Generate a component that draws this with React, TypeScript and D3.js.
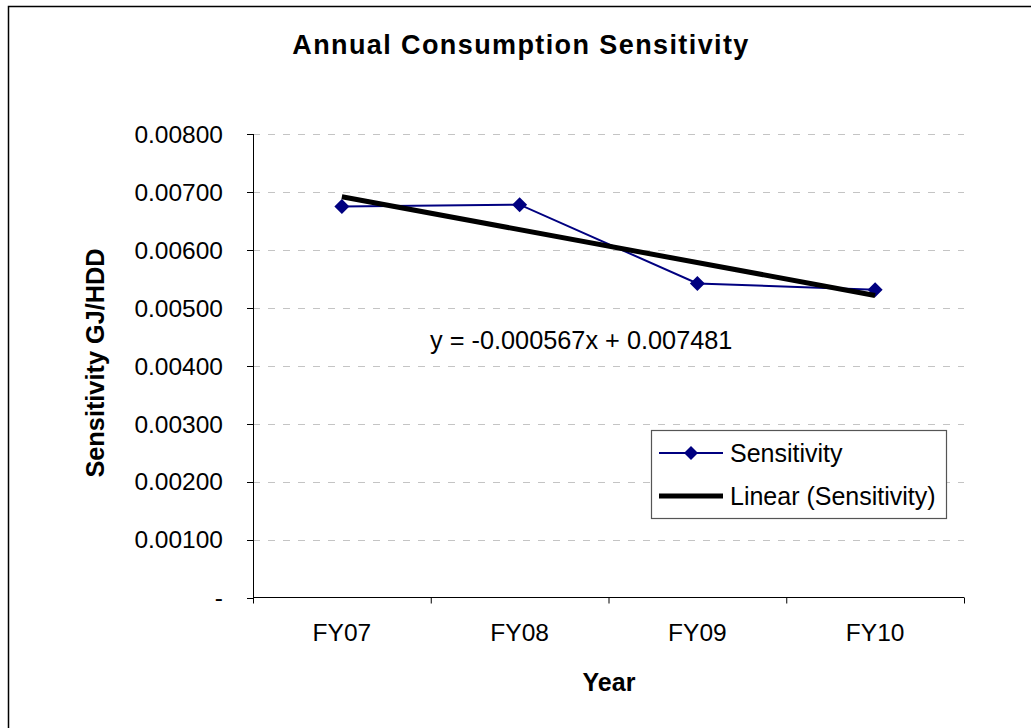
import React from "react";
import * as d3 from "d3";

const categories = ["FY07", "FY08", "FY09", "FY10"];
const sensitivity = [0.00675, 0.00678, 0.00542, 0.00531];
const yTicks = [0, 0.001, 0.002, 0.003, 0.004, 0.005, 0.006, 0.007, 0.008];
const equationText = "y = -0.000567x + 0.007481";
const titleText = "Annual Consumption Sensitivity";
const yLabel = "Sensitivity GJ/HDD";
const xLabel = "Year";
const legendLabels = ["Sensitivity", "Linear (Sensitivity)"];

const FONT = "'Liberation Sans', Arial, Helvetica, sans-serif";

export default function App() {
  const left = 253;
  const right = 964;
  const top = 134;
  const bottom = 597.5;

  const x = d3.scaleBand<string>().domain(categories).range([left, right]);
  const y = d3.scaleLinear().domain([0, 0.008]).range([bottom, top]);
  const cx = (c: string) => (x(c) as number) + x.bandwidth() / 2;

  // linear regression over x = 1..n
  const xs = sensitivity.map((_, i) => i + 1);
  const mx = d3.mean(xs) as number;
  const my = d3.mean(sensitivity) as number;
  const slope =
    d3.sum(xs.map((xi, i) => (xi - mx) * (sensitivity[i] - my))) /
    d3.sum(xs.map((xi) => (xi - mx) * (xi - mx)));
  const intercept = my - slope * mx;
  const trend = xs.map((xi) => intercept + slope * xi);

  const line = d3
    .line<number>()
    .x((_, i) => cx(categories[i]))
    .y((v) => y(v));

  const diamond = (px: number, py: number, r = 7.5) =>
    `M${px},${py - r}L${px + r},${py}L${px},${py + r}L${px - r},${py}Z`;

  const tickFmt = (v: number) => (v === 0 ? "-" : v.toFixed(5));

  const xTickPos = [left, ...categories.map((c) => (x(c) as number) + x.bandwidth())];

  const legX = 651;
  const legY = 430;

  return (
    <svg
      width={1031}
      height={728}
      style={{ position: "absolute", left: 0, top: 0, background: "#fff" }}
      fontFamily={FONT}
    >
      <rect x={0} y={0} width={1031} height={728} fill="#fff" />
      <rect x={8.5} y={6.5} width={1100} height={800} fill="none" stroke="#000" strokeWidth={1.5} />

      <text
        x={521}
        y={54}
        textAnchor="middle"
        fontSize={27}
        fontWeight="bold"
        letterSpacing={1.4}
      >
        {titleText}
      </text>

      {/* gridlines */}
      {yTicks
        .filter((t) => t > 0)
        .map((t) => (
          <line
            key={"g" + t}
            x1={left}
            x2={right}
            y1={Math.round(y(t)) + 0.5}
            y2={Math.round(y(t)) + 0.5}
            stroke="#c4c4c4"
            strokeWidth={1}
            strokeDasharray="7,8"
          />
        ))}

      {/* y axis */}
      <line x1={left + 0.5} x2={left + 0.5} y1={top} y2={bottom} stroke="#000" strokeWidth={1} />
      {yTicks.map((t) => (
        <g key={"t" + t}>
          <line
            x1={left - 6}
            x2={left}
            y1={Math.round(y(t)) + 0.5}
            y2={Math.round(y(t)) + 0.5}
            stroke="#000"
          />
          <text
            x={223}
            y={y(t)}
            dy="0.36em"
            textAnchor="end"
            fontSize={24.5}
          >
            {tickFmt(t)}
          </text>
        </g>
      ))}

      {/* x axis */}
      <line x1={left} x2={right} y1={bottom} y2={bottom} stroke="#000" strokeWidth={1} />
      {xTickPos.map((p, i) => (
        <line key={"xt" + i} x1={p + 0.5} x2={p + 0.5} y1={bottom} y2={bottom + 6} stroke="#000" />
      ))}
      {categories.map((c) => (
        <text key={c} x={cx(c)} y={641} textAnchor="middle" fontSize={24.5}>
          {c}
        </text>
      ))}

      {/* axis titles */}
      <text x={609} y={691} textAnchor="middle" fontSize={25} fontWeight="bold">
        {xLabel}
      </text>
      <text
        transform={`translate(104,363) rotate(-90)`}
        textAnchor="middle"
        fontSize={25.3}
        fontWeight="bold"
      >
        {yLabel}
      </text>

      {/* series */}
      <path d={line(sensitivity) as string} fill="none" stroke="#000080" strokeWidth={2} />
      {sensitivity.map((v, i) => (
        <path key={"m" + i} d={diamond(cx(categories[i]), y(v))} fill="#000080" />
      ))}
      <path
        d={`M${cx(categories[0])},${y(trend[0])}L${cx(categories[3])},${y(trend[3])}`}
        fill="none"
        stroke="#000"
        strokeWidth={5}
      />

      <text x={430} y={349} fontSize={25.3}>
        {equationText}
      </text>

      {/* legend */}
      <rect x={legX + 0.5} y={legY + 0.5} width={295} height={88} fill="#fff" stroke="#555" strokeWidth={1.2} />
      <line x1={659} x2={723} y1={453} y2={453} stroke="#000080" strokeWidth={2} />
      <path d={diamond(691, 453, 7)} fill="#000080" />
      <text x={730} y={453} dy="0.36em" fontSize={25}>
        {legendLabels[0]}
      </text>
      <line x1={659} x2={723} y1={496} y2={496} stroke="#000" strokeWidth={5} />
      <text x={730} y={496} dy="0.36em" fontSize={25}>
        {legendLabels[1]}
      </text>
    </svg>
  );
}
